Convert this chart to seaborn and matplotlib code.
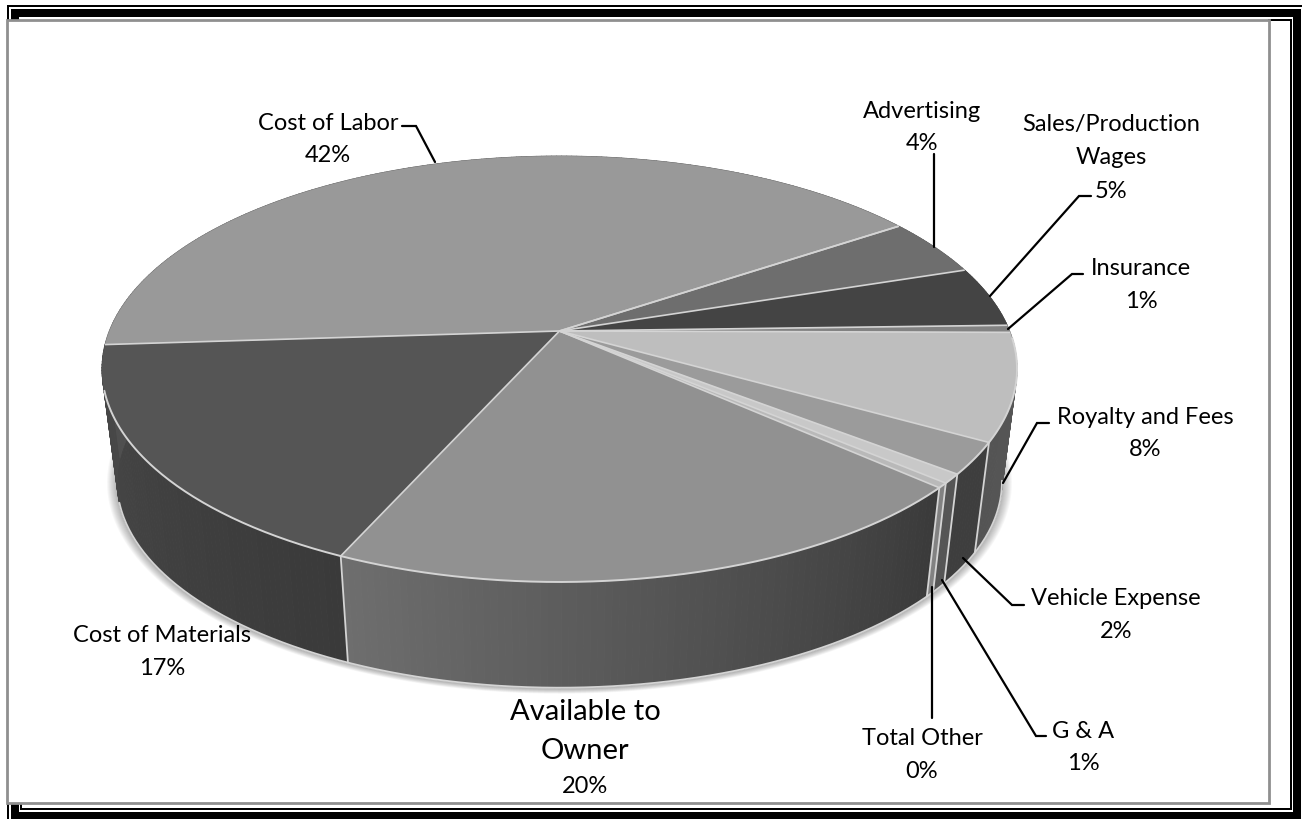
import numpy as np
import matplotlib
matplotlib.use("Agg")
import matplotlib.pyplot as plt
from matplotlib.collections import PolyCollection
from matplotlib.patches import Rectangle
import seaborn as sns

# Share of revenue per expense category, clockwise from the start angle
categories = ["Advertising", "Sales/Production\nWages", "Insurance", "Royalty and Fees",
              "Vehicle Expense", "G & A", "Total Other", "Available to\nOwner",
              "Cost of Materials", "Cost of Labor"]
shares = [4.4, 4.6, 0.55, 8.1, 2.4, 0.7, 0.37, 20.0, 17.3, 41.6]
START_ANGLE = 56.0

# Grey level of each top face, and of each side wall at its two ends
top_grey = [110, 68, 130, 190, 155, 200, 185, 145, 85, 153]
wall_grey_a = [90, 80, 110, 88, 62, 85, 130, 58, 58, 80]
wall_grey_b = [90, 80, 110, 84, 62, 85, 130, 110, 72, 80]

# Disc geometry in canvas pixels
CX, APEX_Y = 559.5, 332.0
HALF_W, PERSP, HALF_D = 450.2, 0.1784, 206.2
BASE_SCALE, BASE_APEX_Y = 0.967, 446.0

sns.set_theme(style="white")
plt.rcParams["font.family"] = ["Lato", "DejaVu Sans"]

fig, ax = plt.subplots(figsize=(13.02, 8.2), dpi=100)
fig.subplots_adjust(0, 0, 1, 1)
ax.set_xlim(0, 1302)
ax.set_ylim(820, 0)
ax.axis("off")


def rim(theta_deg, scale=1.0, apex_y=APEX_Y):
    """Project clockwise-from-north angles onto the tilted disc rim."""
    t = np.radians(np.asarray(theta_deg, dtype=float))
    x, y = np.sin(t), np.cos(t)
    w = 1 + PERSP * y
    return CX + scale * HALF_W * x / w, apex_y - scale * HALF_D * y / w


def grey(level):
    return (level / 255, level / 255, level / 255)


# Page frame: heavy black band with thin companion rules
frame_pieces = [
    (7, 5.7, 1295, 2.3), (7, 5.7, 2, 814.3),
    (11, 10, 1290, 8), (11, 10, 7.5, 810), (1293.3, 10, 7.5, 810), (11, 813.4, 1290, 6.6),
    (1289.5, 20, 2, 790.5), (20, 808.8, 1271, 2), (20, 803, 1.7, 8),
    (1268, 20, 22, 2.4),
]
for x0, y0, w0, h0 in frame_pieces:
    ax.add_patch(Rectangle((x0, y0), w0, h0, fc="black", ec="none", zorder=1))
ax.add_patch(Rectangle((7, 21), 1261.5, 783, fc="white", ec="#8f8f8f", lw=2, zorder=2))

# Soft ground shadow around the base of the disc
all_angles = np.linspace(0, 360, 361)
bx, by = rim(all_angles, BASE_SCALE, BASE_APEX_Y)
base_cy = 0.5 * (by.max() + by.min())
for grow in np.arange(10, 0, -1.0):
    sx = CX + (bx - CX) * (1 + grow / 442)
    sy = base_cy + 1 + (by - base_cy) * (1 + grow * 0.5 / 206)
    ax.fill(sx, sy, color="black", alpha=0.03, lw=0, zorder=3)

# Slice boundaries follow directly from the shares
edges = START_ANGLE + np.concatenate([[0], np.cumsum(shares)]) * 360.0 / sum(shares)

# Side walls, shaded across each slice
quads, quad_colors = [], []
for lo, hi, ga, gb in zip(edges[:-1], edges[1:], wall_grey_a, wall_grey_b):
    n = max(2, int((hi - lo) / 0.75))
    th = np.linspace(lo, hi, n + 1)
    tx, ty = rim(th)
    ux, uy = rim(th, BASE_SCALE, BASE_APEX_Y)
    levels = np.linspace(ga, gb, n)
    for i in range(n):
        quads.append([(tx[i], ty[i]), (tx[i + 1], ty[i + 1]), (ux[i + 1], uy[i + 1]), (ux[i], uy[i])])
        quad_colors.append(grey(levels[i]))
ax.add_collection(PolyCollection(quads, facecolors=quad_colors, edgecolors=quad_colors,
                                 linewidths=0.6, zorder=4))

LIGHT = "#d4d4d4"
ux, uy = rim(np.linspace(100, 254, 300), BASE_SCALE, BASE_APEX_Y)
ax.plot(ux, uy, color=LIGHT, lw=1.3, zorder=5)
for e in edges:
    if 95 < (e % 360) < 265:
        ex, ey = rim([e, e], 1.0), rim([e, e], BASE_SCALE, BASE_APEX_Y)
        ax.plot([ex[0][0], ey[0][0]], [ex[1][0], ey[1][0]], color=LIGHT, lw=1.3, zorder=5)

# Top faces
for lo, hi, g in zip(edges[:-1], edges[1:], top_grey):
    th = np.linspace(lo, hi, max(3, int(hi - lo) * 2))
    tx, ty = rim(th)
    ax.fill(np.r_[CX, tx], np.r_[APEX_Y, ty], color=grey(g), lw=0.3, zorder=6)

# Slice dividers and the bright front rim
for e in edges:
    ex, ey = rim(e)
    ax.plot([CX, ex], [APEX_Y, ey], color=LIGHT, lw=1.2, zorder=7, solid_capstyle="butt")
tx, ty = rim(np.linspace(92, 254, 300))
ax.plot(tx, ty, color=LIGHT, lw=1.4, zorder=7)

# Leader lines from label to slice
leaders = [
    ([934, 934], [155, 248]),
    ([990, 1079, 1091], [297, 197, 197]),
    ([1008, 1072, 1083], [330, 275, 275]),
    ([1003, 1037, 1049], [484, 424, 424]),
    ([963, 1012, 1024], [559, 606, 606]),
    ([942, 1036, 1046], [581, 737, 737]),
    ([932, 932], [588, 719]),
    ([435, 416, 402], [163, 127, 127]),
]
for lx, ly in leaders:
    ax.plot(lx, ly, color="black", lw=1.6, zorder=8, solid_joinstyle="miter")

# Labels: category name lines with the rounded share underneath
FONT_PT = 17.0
placement = {
    "Advertising": (922, [112], 144),
    "Sales/Production\nWages": (1111, [125, 158], 192),
    "Insurance": (1141, [269], 302),
    "Royalty and Fees": (1145, [418], 450),
    "Vehicle Expense": (1116, [599], 632),
    "G & A": (1083, [732], 764),
    "Total Other": (922, [739], 772),
    "Available to\nOwner": (585, [712, 751], 787),
    "Cost of Materials": (162, [636], 669),
    "Cost of Labor": (328, [123], 155),
}
for name, value in zip(categories, shares):
    px, name_ys, val_y = placement[name]
    size = 21 if name.startswith("Available") else FONT_PT
    for line, ly in zip(name.split("\n"), name_ys):
        ax.text(px, ly, line, ha="center", va="center", fontsize=size, color="black", zorder=9)
    ax.text(px, val_y, f"{round(value)}%", ha="center", va="center", fontsize=FONT_PT,
            color="black", zorder=9)

fig.savefig("out.png", dpi=100)
